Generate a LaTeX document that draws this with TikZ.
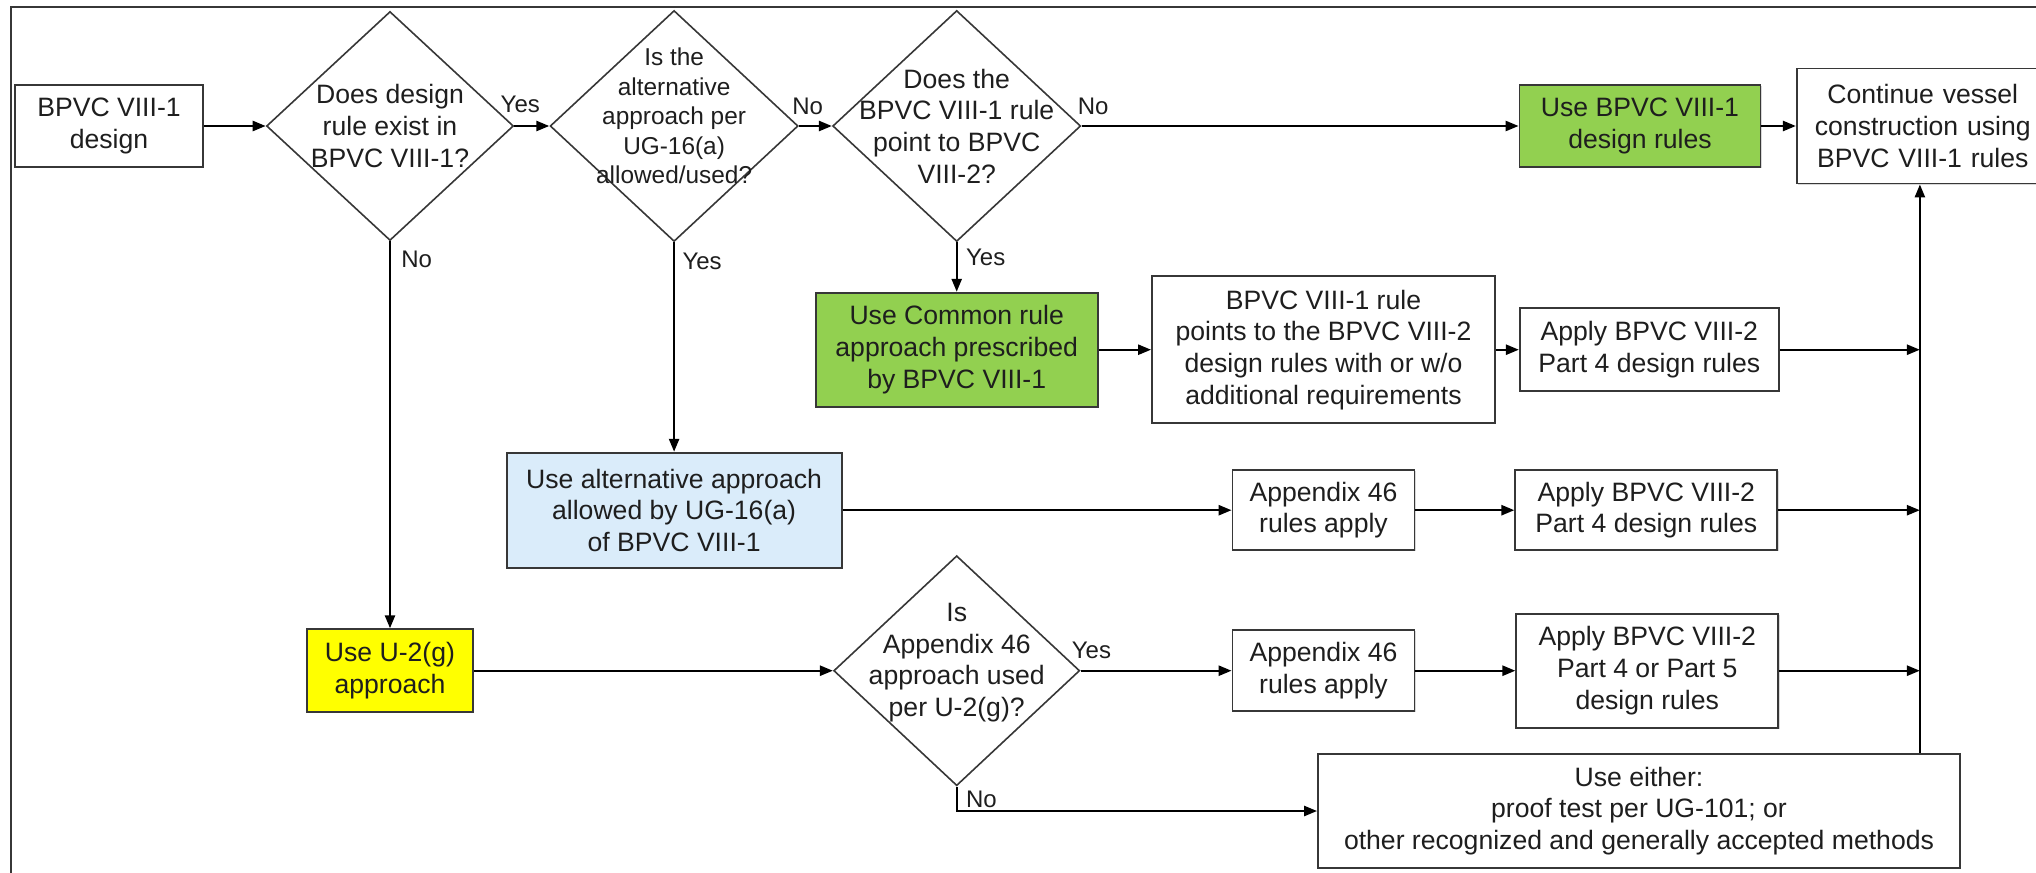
\documentclass[tikz,border=0pt]{standalone}
\usepackage{fontspec}
\setmainfont{Liberation Sans}
\usepackage{xcolor}
\usetikzlibrary{shapes.geometric, arrows.meta, positioning, calc, shadows}
\definecolor{ruleGreen}{RGB}{146, 208, 80}
\definecolor{altBlue}{RGB}{218, 236, 250}
\definecolor{ugYellow}{RGB}{255, 255, 0}
\definecolor{lineGray}{RGB}{55, 55, 55}
\definecolor{textGray}{RGB}{30, 30, 30}

\begin{document}
\begin{tikzpicture}[x=0.5pt, y=-0.5pt]
        \tikzstyle{box} = [rectangle, draw=lineGray, line width=0.9pt, fill=white, align=center, text=textGray, font=\fontsize{13.3}{15.85}\selectfont, inner sep=2pt, drop shadow={shadow xshift=0.6pt, shadow yshift=-0.6pt, fill=black!30}]
        \tikzstyle{decision} = [diamond, draw=lineGray, line width=0.8pt, inner sep=0pt, minimum width=124pt, minimum height=115.5pt]
        \tikzstyle{dtext} = [align=center, text=textGray, font=\fontsize{13.3}{15.85}\selectfont]
        \tikzstyle{lbl} = [text=textGray, font=\fontsize{12}{14}\selectfont, inner sep=0pt]
        \tikzstyle{arrow} = [-{Triangle[length=6.5pt, width=5pt]}, line width=1.2pt, black]

        \useasboundingbox (0,0) rectangle (2036,873);
        \clip (0,0) rectangle (2036,873);
        \draw[lineGray, line width=0.8pt] (2040,7) -- (11,7) -- (11,880);

        % top row
        \node[box, minimum width=94pt, minimum height=41pt] (start) at (109,126) {BPVC VIII-1\\design};
        \node[decision, minimum width=123.5pt, minimum height=114.5pt, label={[dtext]center:{Does design\\rule exist in\\BPVC VIII-1?}}] (d1) at (390,126) {};
        \node[decision, right=17.5pt of d1, label={[dtext, font=\fontsize{12.2}{14.7}\selectfont, yshift=5pt]center:{Is the\\alternative\\approach per\\UG-16(a)\\allowed/used?}}] (d2) {};
        \node[decision, right=16.5pt of d2, label={[dtext]center:{Does the\\BPVC VIII-1 rule\\point to BPVC\\VIII-2?}}] (d3) {};
        \node[box, fill=ruleGreen, minimum width=120.5pt, minimum height=41pt] (use1) at (1640,126) {Use BPVC VIII-1\\design rules};
        \node[box, minimum width=132pt, minimum height=57.5pt, text width=116pt, anchor=west] (cont) at ([xshift=17.25pt]use1.east) {\hspace*{-6pt}Continue vessel\\\hspace*{-6pt}construction using\\\hspace*{-6pt}BPVC VIII-1 rules};

        % common rule row
        \node[box, fill=ruleGreen, below=24.75pt of d3, minimum width=141pt, minimum height=57pt] (common) {Use Common rule\\approach prescribed\\by BPVC VIII-1};
        \node[box, right=26.25pt of common, minimum width=171.5pt, minimum height=73.5pt] (points) {BPVC VIII-1 rule\\points to the BPVC VIII-2\\design rules with or w/o\\additional requirements};
        \node[box, right=11.5pt of points, minimum width=129.5pt, minimum height=41.5pt] (apply1) {Apply BPVC VIII-2\\Part 4 design rules};

        % UG-16(a) row
        \node[box, fill=altBlue, below=104.75pt of d2, minimum width=167.5pt, minimum height=57.5pt] (alt) {Use alternative approach\\allowed by UG-16(a)\\of BPVC VIII-1};
        \node[box, minimum width=91pt, minimum height=40pt] (app46a) at (points |- alt) {Appendix 46\\rules apply};
        \node[box, minimum width=131pt, minimum height=40pt] (apply2) at ([xshift=-1.5pt]apply1 |- alt) {Apply BPVC VIII-2\\Part 4 design rules};

        % U-2(g) row
        \node[box, fill=ugYellow, below=193.5pt of d1, minimum width=83pt, minimum height=41.5pt] (u2g) {Use U-2(g)\\approach};
        \node[decision, minimum width=123pt, minimum height=115pt, label={[dtext, yshift=4pt]center:{Is\\Appendix 46\\approach used\\per U-2(g)?}}] (d4) at (d3 |- u2g) {};
        \node[box, minimum width=91pt, minimum height=40.5pt] (app46b) at (points |- u2g) {Appendix 46\\rules apply};
        \node[box, minimum width=131pt, minimum height=57pt] (apply3) at ([xshift=-1pt]apply1 |- u2g) {Apply BPVC VIII-2\\Part 4 or Part 5\\design rules};
        \node[box, minimum width=321pt, minimum height=57pt] (either) at (1639,811) {Use either:\\proof test per UG-101; or\\other recognized and generally accepted methods};

        % yes / no labels
        \node[lbl, anchor=south west] at ([shift={(-14,-13)}]d1.east) {Yes};
        \node[lbl, anchor=north west] at ([shift={(11,9)}]d1.south) {No};
        \node[lbl, anchor=south west] at ([shift={(-7,-11)}]d2.east) {No};
        \node[lbl, anchor=north west] at ([shift={(8,10)}]d2.south) {Yes};
        \node[lbl, anchor=south west] at ([shift={(-4,-11)}]d3.east) {No};
        \node[lbl, anchor=north west] at ([shift={(9,6)}]d3.south) {Yes};
        \node[lbl, anchor=south west] at ([shift={(-9,-12)}]d4.east) {Yes};
        \node[lbl, anchor=north west] at ([shift={(9,4)}]d4.south) {No};

        \coordinate (bus) at ([xshift=62pt]cont.west);
        \draw[arrow] (start) -- (d1);
        \draw[arrow] (d1) -- (d2);
        \draw[arrow] (d2) -- (d3);
        \draw[arrow] (d3) -- (use1);
        \draw[arrow] (use1) -- (cont);
        \draw[arrow] (d3) -- (common);
        \draw[arrow] (common) -- (points);
        \draw[arrow] (points) -- (apply1);
        \draw[arrow] (d2) -- (alt);
        \draw[arrow] (alt) -- (app46a);
        \draw[arrow] (app46a) -- (apply2);
        \draw[arrow] (d1) -- (u2g);
        \draw[arrow] (u2g) -- (d4);
        \draw[arrow] (d4) -- (app46b);
        \draw[arrow] (app46b) -- (apply3);
        \draw[arrow] (d4.south) |- (either.west);
        \draw[arrow] (apply1.east) -- (apply1.east -| bus);
        \draw[arrow] (apply2.east) -- (apply2.east -| bus);
        \draw[arrow] (apply3.east) -- (apply3.east -| bus);
        \draw[arrow] (either.north -| bus) -- (bus |- cont.south);
    \end{tikzpicture}
\end{document}
